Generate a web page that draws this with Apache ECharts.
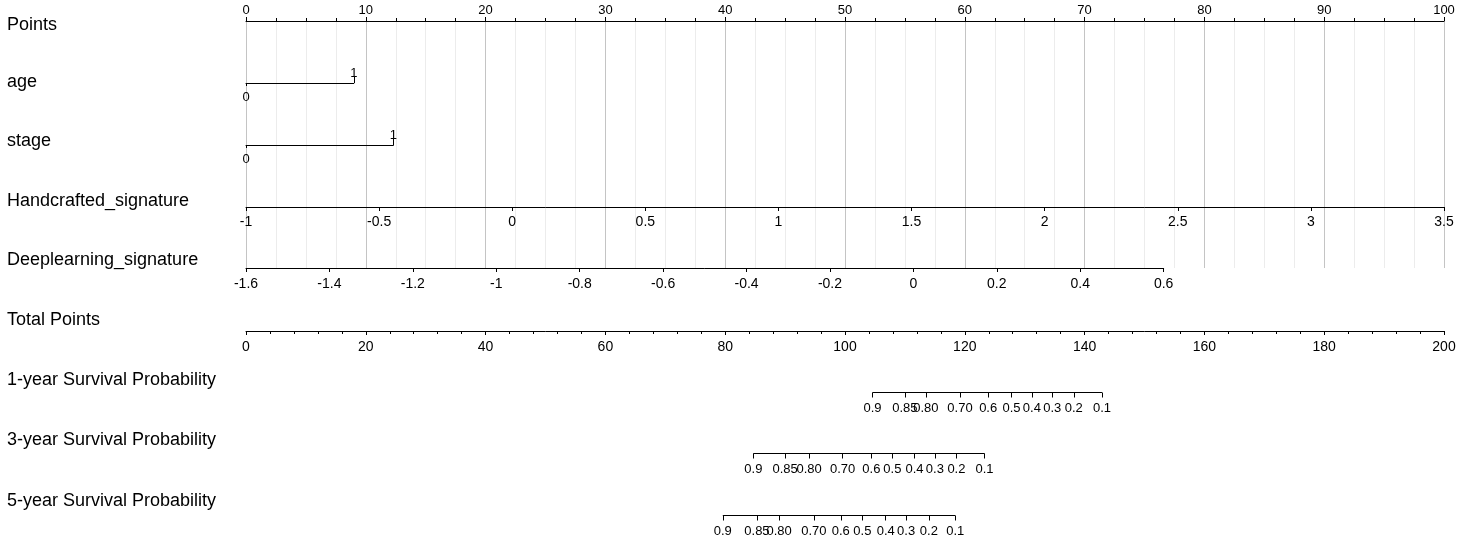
<!DOCTYPE html>
<html>
<head>
<meta charset="utf-8">
<title>Nomogram</title>
<script src="https://cdn.jsdelivr.net/npm/echarts@6/dist/echarts.min.js"></script>
<style>
  html, body { margin: 0; padding: 0; background: #fff; }
  #chart { width: 1476px; height: 538px; }
</style>
</head>
<body>
<div id="chart"></div>
<script>
// row titles
const rowNames = [
  'Points', 'age', 'stage', 'Handcrafted_signature', 'Deeplearning_signature',
  'Total Points', '1-year Survival Probability', '3-year Survival Probability',
  '5-year Survival Probability'
]

// predictor scales: value range and the points reached at the end of the range
const pointsRange = [0, 100]
const ageLevels = [0, 1]
const agePoints = [0, 9.0]
const stageLevels = [0, 1]
const stagePoints = [0, 12.3]
const handcraftedRange = [-1, 3.5]
const handcraftedPoints = [0, 100]
const deepRange = [-1.6, 0.6]
const deepPoints = [0, 76.6]
const totalRange = [0, 200]

// survival scales: tick labels and where they fall on the total points axis
const survLabels = ['0.9', '0.85', '0.80', '0.70', '0.6', '0.5', '0.4', '0.3', '0.2', '0.1']
const surv1Total = [104.6, 110.0, 113.5, 119.2, 123.9, 127.8, 131.2, 134.6, 138.2, 142.9]
const surv3Total = [84.7, 90.0, 94.0, 99.6, 104.4, 107.9, 111.6, 115.0, 118.6, 123.3]
const surv5Total = [79.6, 85.3, 89.0, 94.8, 99.3, 102.9, 106.8, 110.2, 114.0, 118.4]

// layout
const LEFT = 246
const FULL_W = 1198
const rowY = [21, 83, 145, 207, 268, 331, 392, 453, 515]
const titleTop = [16, 73, 132, 192, 251, 311, 371, 431, 492]
const FONT = 'Liberation Sans, Arial, sans-serif'

const black = { color: '#000', width: 1 }
const labelBase = { color: '#000', fontSize: 14, fontFamily: FONT }

const grids = []
const xAxes = []
const yAxes = []
const series = []

function addGrid(top, width, height) {
  grids.push({ left: LEFT, top: top, width: width, height: height || 0 })
  yAxes.push({ gridIndex: grids.length - 1, show: false, type: 'value', min: 0, max: 1 })
  return grids.length - 1
}

function widthFor(pts) {
  return (pts[1] - pts[0]) / (pointsRange[1] - pointsRange[0]) * FULL_W
}

// Points axis with the vertical reference lines
const g0 = addGrid(rowY[0], FULL_W, rowY[4] - rowY[0])
xAxes.push({
  gridIndex: g0, type: 'value', position: 'top', z: 0,
  min: pointsRange[0], max: pointsRange[1], interval: 10,
  axisLine: { onZero: false, lineStyle: black },
  axisTick: { length: 4, lineStyle: black },
  minorTick: { show: true, splitNumber: 4, length: 3, lineStyle: black },
  axisLabel: { ...labelBase, fontSize: 13, margin: 4 },
  splitLine: { show: true, lineStyle: { color: '#c4c4c4', width: 1 } },
  minorSplitLine: { show: true, lineStyle: { color: '#ececec', width: 1 } }
})

// two-level factors: low level below the line, high level above
function addFactor(y, levels, pts) {
  const g = addGrid(y, widthFor(pts))
  xAxes.push({
    gridIndex: g, type: 'value', position: 'bottom', z: 2,
    min: levels[0], max: levels[1],
    axisLine: { onZero: false, lineStyle: black },
    axisTick: { length: 3, lineStyle: black, customValues: [levels[0]] },
    axisLabel: { ...labelBase, fontSize: 13, margin: 8, customValues: [levels[0]] },
    splitLine: { show: false }
  })
  xAxes.push({
    gridIndex: g, type: 'value', position: 'top', z: 2,
    min: levels[0], max: levels[1],
    axisLine: { show: false, onZero: false },
    axisTick: { length: 7, lineStyle: black, customValues: [levels[1]] },
    axisLabel: { ...labelBase, fontSize: 13, margin: 3, customValues: [levels[1]] },
    splitLine: { show: false }
  })
}
addFactor(rowY[1], ageLevels, agePoints)
addFactor(rowY[2], stageLevels, stagePoints)

// continuous predictors and total points
function addScale(y, range, pts, interval, margin, minor) {
  const g = addGrid(y, widthFor(pts))
  xAxes.push({
    gridIndex: g, type: 'value', position: 'bottom', z: 2,
    min: range[0], max: range[1], interval: interval,
    axisLine: { onZero: false, lineStyle: black },
    axisTick: { length: 4, lineStyle: black },
    minorTick: minor ? { show: true, splitNumber: minor, length: 3, lineStyle: black } : { show: false },
    axisLabel: { ...labelBase, margin: margin },
    splitLine: { show: false }
  })
}
addScale(rowY[3], handcraftedRange, handcraftedPoints, 0.5, 8)
addScale(rowY[4], deepRange, deepPoints, 0.2, 9)
addScale(rowY[5], totalRange, [0, 100], 20, 9, 5)

// survival probability scales placed on the total points axis
function addSurvival(y, totals) {
  const g = addGrid(y + 0.5, FULL_W)
  xAxes.push({
    gridIndex: g, type: 'value', position: 'bottom', z: 2,
    min: totalRange[0], max: totalRange[1],
    axisLine: { show: false, onZero: false },
    axisTick: { length: 5, lineStyle: black, customValues: totals },
    axisLabel: {
      ...labelBase, fontSize: 13, margin: 9, customValues: totals,
      formatter: v => survLabels[totals.indexOf(v)]
    },
    splitLine: { show: false }
  })
  series.push({
    type: 'line', xAxisIndex: xAxes.length - 1, yAxisIndex: g,
    data: [[totals[0], 0], [totals[totals.length - 1], 0]],
    symbol: 'none', silent: true, z: 3,
    lineStyle: black
  })
}
addSurvival(rowY[6], surv1Total)
addSurvival(rowY[7], surv3Total)
addSurvival(rowY[8], surv5Total)

const chart = echarts.init(document.getElementById('chart'), null, { renderer: 'canvas' })

chart.setOption({
  animation: false,
  backgroundColor: '#fff',
  grid: grids,
  xAxis: xAxes,
  yAxis: yAxes,
  series: series,
  graphic: rowNames.map((name, i) => ({
    type: 'text',
    left: 7,
    top: titleTop[i],
    style: { text: name, fill: '#000', fontSize: 18, fontFamily: FONT }
  }))
})
</script>
</body>
</html>
